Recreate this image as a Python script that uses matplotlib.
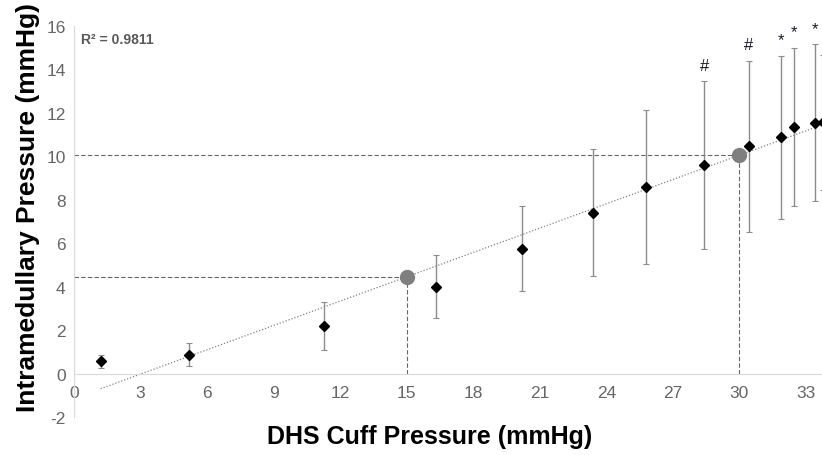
import numpy as np
import matplotlib.pyplot as plt

plt.rcParams['font.family'] = ['Liberation Sans', 'DejaVu Sans']
plt.rcParams['axes.unicode_minus'] = False

# data
cuff = [1.2, 5.2, 11.26, 16.3, 20.2, 23.4, 25.8, 28.42, 30.42, 31.87, 32.46, 33.4, 33.75]
imp = [0.57, 0.87, 2.19, 4.0, 5.75, 7.4, 8.58, 9.59, 10.46, 10.86, 11.34, 11.53, 11.55]
err = [0.3, 0.53, 1.1, 1.46, 1.95, 2.93, 3.56, 3.85, 3.93, 3.77, 3.63, 3.61, 3.1]
marks = ['', '', '', '', '', '', '', '#', '#', '*', '*', '*', '']
lookup_x = [15, 30]
r2_text = 'R\u00b2 = 0.9811'

fig = plt.figure(figsize=(8.22, 4.56), dpi=100)
ax = fig.add_axes([0.09, 0.0833, 0.91, 0.858])

# linear trend
k, b = np.polyfit(cuff, imp, 1)
tx = np.array([cuff[0], 36])
ax.plot(tx, k*tx+b, color='#808080', lw=0.9, ls=(0, (1, 1.5)), zorder=2)

# lookup lines
for x0 in lookup_x:
    y0 = k*x0+b
    ax.plot([0, x0], [y0, y0], color='#666666', lw=0.8, ls=(0, (4, 2)), zorder=1)
    ax.plot([x0, x0], [0, y0], color='#666666', lw=0.8, ls=(0, (4, 2)), zorder=1)
    ax.plot(x0, y0, 'o', ms=10, color='#7f7f7f', zorder=5)

ax.errorbar(cuff, imp, yerr=err, fmt='none', ecolor='#8c8c8c', elinewidth=1, capsize=2.5, capthick=0.8, zorder=3)
ax.plot(cuff, imp, 'D', ms=5.5, color='black', zorder=4)

for x, y, e, m in zip(cuff, imp, err, marks):
    if m:
        ax.text(x, y+e+0.4, m, ha='center', va='bottom', fontsize=12, color='#1a1a2e')

ax.text(0.3, 15.4, r2_text, fontsize=10, fontweight='bold', color='#595959', va='center')

ax.set_xlim(0, 33.72)
ax.set_ylim(-2, 16)
ax.set_xticks(np.arange(0, 34, 3))
ax.set_yticks(np.arange(-2, 17, 2))
ax.spines['top'].set_visible(False)
ax.spines['right'].set_visible(False)
ax.spines['bottom'].set_position(('data', 0))
ax.spines['bottom'].set_color('#d9d9d9')
ax.spines['left'].set_color('#d9d9d9')
ax.tick_params(length=0, labelsize=12.5, labelcolor='#666666')
ax.tick_params(axis='x', pad=8)
ax.tick_params(axis='y', pad=6)

fig.text(0.523, 0.042, 'DHS Cuff Pressure (mmHg)', ha='center', va='center', fontsize=18, fontweight='bold')
fig.text(0.034, 0.545, 'Intramedullary Pressure (mmHg)', ha='center', va='center', rotation=90, fontsize=19, fontweight='bold')

fig.savefig('out.png', dpi=100)
